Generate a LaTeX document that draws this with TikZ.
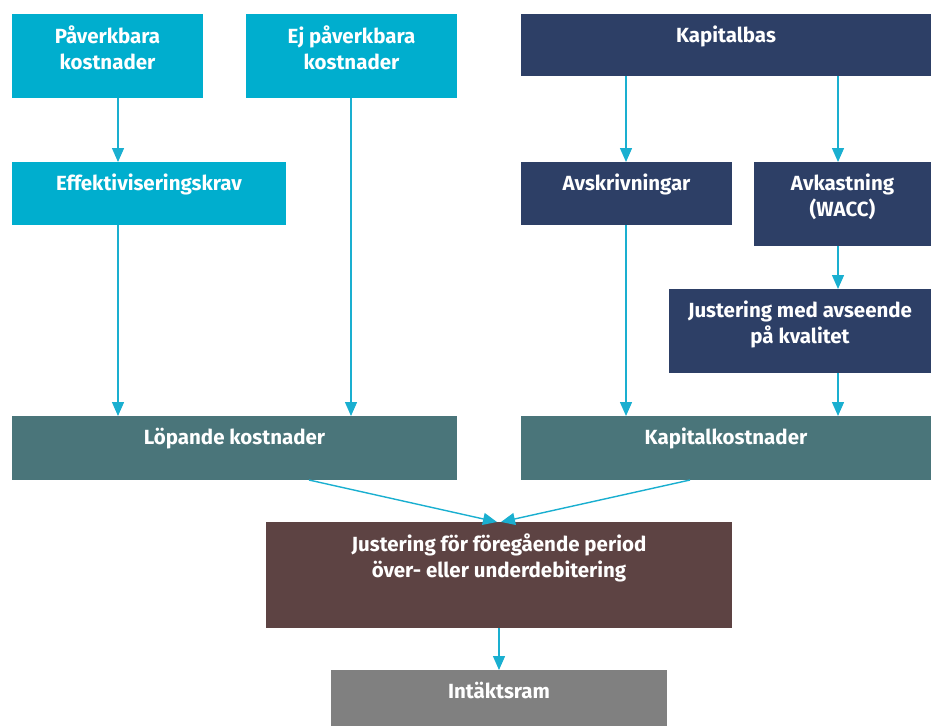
\documentclass[tikz,border=0pt]{standalone}
\usepackage{fontspec}
\setmainfont{Fira Sans}
\usetikzlibrary{arrows.meta}
\definecolor{cyanb}{HTML}{00AECE}
\definecolor{navyb}{HTML}{2D3F66}
\definecolor{tealb}{HTML}{4A757A}
\definecolor{brownb}{HTML}{5D4343}
\definecolor{grayb}{HTML}{808080}
\definecolor{arrowc}{HTML}{1AAFD0}
\begin{document}
\begin{tikzpicture}[x=1pt,y=-1pt,
  box/.style={draw=none,inner sep=0pt,outer sep=0pt},
  txt/.style={anchor=north,text=white,font=\bfseries\fontsize{20.5}{26}\selectfont,align=center,inner sep=0pt},
  arr/.style={draw=arrowc,line width=1.4pt,-{Triangle[width=12pt,length=14pt]}}]
\useasboundingbox (0,0) rectangle (931,726);
% boxes
\node[box,fill=cyanb,minimum width=191pt,minimum height=84pt] (pk) at (107.5,56) {};
\node[box,fill=cyanb,minimum width=211pt,minimum height=84pt] (ek) at (351.5,56) {};
\node[box,fill=navyb,minimum width=410pt,minimum height=62pt] (kb) at (726,45) {};
\node[box,fill=cyanb,minimum width=274pt,minimum height=63pt] (ef) at (149,193.5) {};
\node[box,fill=navyb,minimum width=211pt,minimum height=63pt] (av) at (626.5,193.5) {};
\node[box,fill=navyb,minimum width=177pt,minimum height=84pt] (ak) at (842.5,204) {};
\node[box,fill=navyb,minimum width=262pt,minimum height=84pt] (jk) at (800,331) {};
\node[box,fill=tealb,minimum width=445pt,minimum height=64pt] (lk) at (234.5,448) {};
\node[box,fill=tealb,minimum width=410pt,minimum height=64pt] (kk) at (726,448) {};
\node[box,fill=brownb,minimum width=466pt,minimum height=106pt] (jf) at (499,575) {};
\node[box,fill=grayb,minimum width=336pt,minimum height=56pt] (ir) at (499,698) {};
% texts
\node[txt] (tpk) at ([yshift=-11.5pt]pk.north) {Påverkbara\\kostnader};
\node[txt] (tek) at ([yshift=-11.5pt]ek.north) {Ej påverkbara\\kostnader};
\node[txt] (tkb) at ([yshift=-11.5pt]kb.north) {Kapitalbas};
\node[txt] (tef) at ([yshift=-11.5pt]ef.north) {Effektiviseringskrav};
\node[txt] (tav) at ([yshift=-11.5pt]av.north) {Avskrivningar};
\node[txt] (tak) at ([yshift=-11.5pt]ak.north) {Avkastning\\(WACC)};
\node[txt] (tjk) at ([yshift=-11.5pt]jk.north) {Justering med avseende\\på kvalitet};
\node[txt] (tlk) at ([yshift=-11.5pt]lk.north) {Löpande kostnader};
\node[txt] (tkk) at ([yshift=-11.5pt]kk.north) {Kapitalkostnader};
\node[txt] (tjf) at ([yshift=-11.5pt]jf.north) {Justering för föregående period\\över- eller underdebitering};
\node[txt] (tir) at ([yshift=-11.5pt]ir.north) {Intäktsram};
% connectors
\draw[arr] (pk.south -| 118,0) -- (ef.north -| 118,0);
\draw[arr] (ef.south -| 118,0) -- (lk.north -| 118,0);
\draw[arr] (ek.south -| 351,0) -- (lk.north -| 351,0);
\draw[arr] (kb.south -| 626,0) -- (av.north -| 626,0);
\draw[arr] (kb.south -| 838,0) -- (ak.north -| 838,0);
\draw[arr] (ak.south -| 838,0) -- (jk.north -| 838,0);
\draw[arr] (jk.south -| 838,0) -- (kk.north -| 838,0);
\draw[arr] (av.south -| 626,0) -- (kk.north -| 626,0);
\draw[arr] (lk.south -| 309,0) -- ([xshift=-2pt]jf.north);
\draw[arr] (kk.south -| 690,0) -- ([xshift=2pt]jf.north);
\draw[arr] (jf.south) -- (ir.north);
\end{tikzpicture}
\end{document}
